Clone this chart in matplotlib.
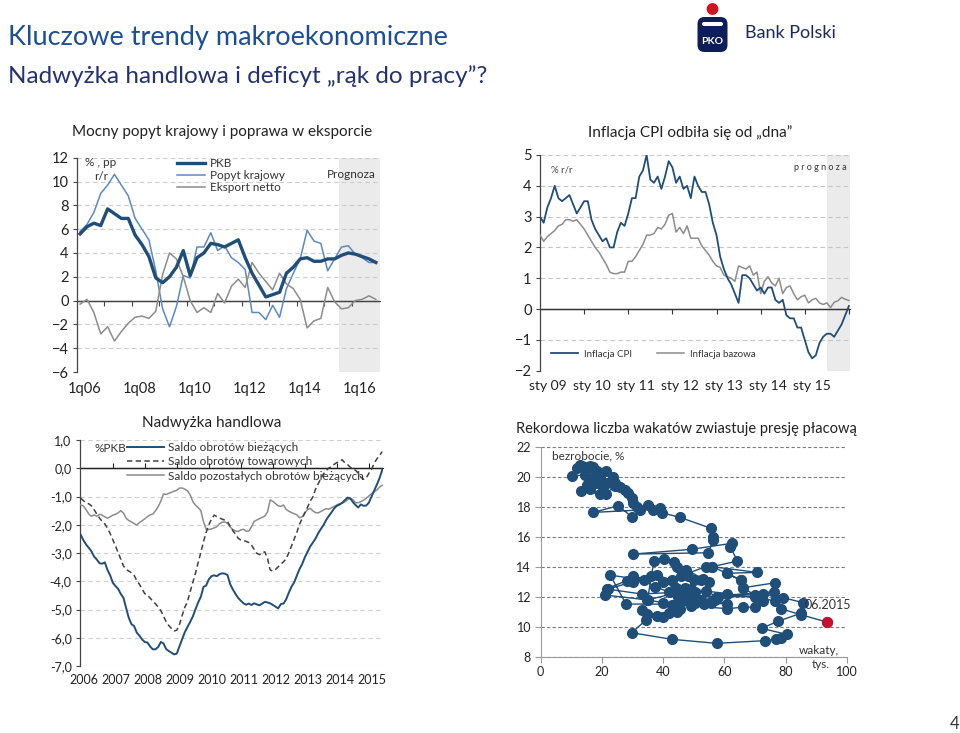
import matplotlib
matplotlib.use('Agg')
import matplotlib.pyplot as plt
import numpy as np
from matplotlib.patches import FancyBboxPatch, Circle
from matplotlib.lines import Line2D

plt.rcParams['font.family'] = ['Lato', 'DejaVu Sans']

# ---------------- DATA ----------------
# Chart 1: quarterly 1q06..4q16
q_labels = ['1q06', '1q08', '1q10', '1q12', '1q14', '1q16']
pkb = [5.6, 6.2, 6.5, 6.3, 7.7, 7.3, 6.9, 6.9, 5.5, 4.7, 3.7, 1.9, 1.5, 2.0, 2.8, 4.2,
       2.1, 3.6, 4.0, 4.8, 4.7, 4.5, 4.8, 5.1, 3.6, 2.3, 1.3, 0.3, 0.5, 0.7, 2.3, 2.8,
       3.5, 3.6, 3.3, 3.3, 3.5, 3.5, 3.8, 4.0, 3.9, 3.7, 3.5, 3.2]
popyt = [5.8, 6.4, 7.4, 9.0, 9.7, 10.6, 9.7, 8.8, 6.9, 6.0, 5.1, 2.5, -0.7, -2.2, -0.5, 2.1,
         1.9, 4.5, 4.5, 5.7, 4.2, 4.6, 3.6, 3.2, 2.6, -1.0, -1.0, -1.6, -0.4, -1.4, 1.0, 2.3,
         3.5, 5.9, 5.0, 4.8, 2.5, 3.5, 4.5, 4.6, 3.9, 3.6, 3.2, 3.2]
eksport = [-0.3, 0.1, -1.0, -2.8, -2.2, -3.4, -2.6, -1.9, -1.4, -1.3, -1.5, -0.9, 2.2, 4.0, 3.5, 2.0,
           0.0, -1.0, -0.6, -1.0, 0.6, -0.2, 1.2, 1.8, 1.1, 3.2, 2.3, 1.6, 0.9, 2.3, 1.4, 1.0,
           0.1, -2.3, -1.7, -1.5, 1.1, -0.1, -0.7, -0.6, 0.0, 0.1, 0.4, 0.1]

# Chart 2: monthly 12.2008..12.2015
cpi_labels = ['sty 09', 'sty 10', 'sty 11', 'sty 12', 'sty 13', 'sty 14', 'sty 15']
cpi = [3.0,
       2.8, 3.3, 3.6, 4.0, 3.6, 3.5, 3.6, 3.7, 3.4, 3.1, 3.3, 3.5,
       3.5, 2.9, 2.6, 2.4, 2.2, 2.3, 2.0, 2.0, 2.5, 2.8, 2.7, 3.1,
       3.6, 3.6, 4.3, 4.5, 5.0, 4.2, 4.1, 4.3, 3.9, 4.3, 4.8, 4.6,
       4.1, 4.3, 3.9, 4.0, 3.6, 4.3, 4.0, 3.8, 3.8, 3.4, 2.8, 2.4,
       1.7, 1.3, 1.0, 0.8, 0.5, 0.2, 1.1, 1.1, 1.0, 0.8, 0.6, 0.7,
       0.5, 0.7, 0.7, 0.3, 0.2, 0.3, -0.2, -0.3, -0.3, -0.6, -0.6, -1.0,
       -1.4, -1.6, -1.5, -1.1, -0.9, -0.8, -0.8, -0.9, -0.7, -0.5, -0.2, 0.1]
bazowa = [2.4,
          2.2, 2.35, 2.45, 2.55, 2.7, 2.75, 2.9, 2.9, 2.85, 2.9, 2.75, 2.6,
          2.4, 2.2, 2.0, 1.85, 1.65, 1.45, 1.2, 1.15, 1.15, 1.2, 1.2, 1.55,
          1.55, 1.7, 1.9, 2.1, 2.4, 2.4, 2.45, 2.65, 2.6, 2.75, 3.05, 3.1,
          2.5, 2.65, 2.45, 2.7, 2.3, 2.3, 2.3, 2.05, 1.9, 1.75, 1.55, 1.4,
          1.35, 1.1, 1.05, 1.0, 0.9, 1.4, 1.35, 1.3, 1.4, 1.1, 1.2, 0.5,
          0.9, 1.05, 0.85, 0.75, 1.0, 0.5, 0.7, 0.75, 0.5, 0.3, 0.4, 0.45,
          0.2, 0.3, 0.35, 0.2, 0.15, 0.2, 0.05, 0.22, 0.27, 0.38, 0.32, 0.28]

# Chart 3: monthly 01.2006..06.2015, % PKB
years = ['2006', '2007', '2008', '2009', '2010', '2011', '2012', '2013', '2014', '2015']
ca = [-2.36, -2.55, -2.70, -2.82, -2.94, -3.13, -3.23, -3.36, -3.38, -3.33, -3.60, -3.79,
      -4.05, -4.17, -4.27, -4.45, -4.59, -4.95, -5.30, -5.52, -5.59, -5.82, -5.93, -6.06,
      -6.15, -6.17, -6.31, -6.41, -6.41, -6.33, -6.15, -6.20, -6.40, -6.47, -6.53, -6.59,
      -6.56, -6.30, -6.05, -5.80, -5.62, -5.44, -5.25, -4.99, -4.75, -4.55, -4.20, -4.15,
      -3.93, -3.82, -3.79, -3.82, -3.75, -3.72, -3.73, -3.78, -4.10, -4.29, -4.45, -4.59,
      -4.69, -4.78, -4.83, -4.79, -4.84, -4.78, -4.82, -4.85, -4.79, -4.73, -4.75, -4.78,
      -4.84, -4.90, -4.96, -4.81, -4.79, -4.64, -4.40, -4.19, -4.04, -3.80, -3.57, -3.39,
      -3.15, -2.96, -2.77, -2.63, -2.49, -2.30, -2.15, -2.01, -1.83, -1.69, -1.56, -1.42,
      -1.33, -1.29, -1.22, -1.13, -1.04, -1.06, -1.20, -1.30, -1.39, -1.28, -1.33, -1.32,
      -1.22, -1.00, -0.79, -0.58, -0.35, -0.06]
trade = [-1.06, -1.15, -1.22, -1.26, -1.33, -1.47, -1.62, -1.76, -1.88, -1.97, -2.12, -2.31,
         -2.53, -2.75, -2.99, -3.22, -3.46, -3.58, -3.64, -3.70, -3.79, -3.98, -4.11, -4.28,
         -4.44, -4.49, -4.60, -4.70, -4.80, -4.91, -5.04, -5.24, -5.43, -5.57, -5.67, -5.76,
         -5.73, -5.53, -5.21, -4.92, -4.72, -4.37, -4.04, -3.71, -3.34, -2.98, -2.60, -2.27,
         -2.00, -1.80, -1.66, -1.71, -1.76, -1.80, -1.84, -1.89, -2.05, -2.21, -2.33, -2.48,
         -2.54, -2.56, -2.59, -2.63, -2.72, -2.87, -3.01, -3.06, -2.99, -2.96, -3.19, -3.60,
         -3.64, -3.58, -3.49, -3.40, -3.31, -3.20, -2.99, -2.75, -2.51, -2.27, -1.98, -1.78,
         -1.58, -1.38, -1.16, -1.02, -0.74, -0.55, -0.37, -0.20, -0.08, 0.01, 0.05, 0.14,
         0.20, 0.25, 0.30, 0.19, 0.13, 0.04, -0.02, -0.07, -0.17, -0.32, -0.39, -0.35,
         -0.18, -0.04, 0.18, 0.33, 0.45, 0.59]
other = [-1.30, -1.34, -1.47, -1.62, -1.70, -1.65, -1.70, -1.63, -1.66, -1.72, -1.77, -1.72,
         -1.66, -1.63, -1.58, -1.50, -1.59, -1.77, -1.85, -1.90, -1.96, -2.01, -1.92, -1.86,
         -1.79, -1.71, -1.65, -1.62, -1.51, -1.36, -1.17, -0.91, -0.93, -0.89, -0.85, -0.81,
         -0.78, -0.70, -0.70, -0.74, -0.80, -0.94, -1.18, -1.31, -1.39, -1.50, -1.89, -2.16,
         -2.17, -2.15, -2.11, -2.07, -1.97, -1.91, -1.90, -1.95, -2.08, -2.17, -2.22, -2.24,
         -2.18, -2.16, -2.23, -2.22, -2.07, -1.88, -1.83, -1.78, -1.74, -1.69, -1.55, -1.12,
         -1.17, -1.25, -1.33, -1.35, -1.30, -1.46, -1.52, -1.57, -1.61, -1.65, -1.75, -1.72,
         -1.58, -1.46, -1.42, -1.51, -1.57, -1.58, -1.53, -1.48, -1.43, -1.45, -1.40, -1.35,
         -1.30, -1.25, -1.24, -1.19, -1.12, -1.07, -1.11, -1.22, -1.22, -1.18, -1.13, -1.06,
         -0.98, -0.90, -0.84, -0.77, -0.67, -0.60]

# Chart 4: vacancies (thous.) vs unemployment (%), monthly path ending 06.2015
wakaty = [12.8, 14.5, 16.1, 17.2, 18.5, 21.3, 19.4, 17.0, 16.7, 15.0, 14.5, 10.1,
          11.8, 13.5, 15.5, 18.0, 19.5, 21.8, 23.7, 24.3, 20.5, 16.0, 19.4, 13.1,
          15.5, 18.0, 21.3, 24.3, 25.9, 27.5, 28.6, 29.7, 30.3, 31.4, 32.5, 17.2,
          25.4, 29.7, 35.2, 36.8, 39.0, 39.5, 45.5, 55.6, 56.4, 56.4, 54.8, 30.3,
          49.3, 62.5, 62.0, 64.3, 56.1, 70.8, 60.8, 65.4, 66.2, 76.7, 76.3, 46.0,
          72.8, 79.3, 85.8, 85.0, 77.5, 72.2, 80.4, 78.4, 76.9, 73.3, 57.5, 42.8,
          29.7, 34.4, 34.6, 33.0, 38.1, 40.1, 42.0, 44.4, 45.5, 43.0, 40.0, 35.0,
          21.1, 21.6, 28.1, 30.3, 33.6, 37.4, 42.0, 45.0, 48.0, 50.5, 53.5, 27.9,
          22.7, 30.5, 37.9, 43.0, 47.0, 50.0, 52.5, 57.0, 60.8, 55.5, 45.0, 33.0,
          22.0, 30.0, 36.0, 40.0, 44.0, 48.0, 50.5, 54.0, 57.5, 61.0, 49.0, 34.9,
          37.0, 40.3, 43.4, 44.5, 46.5, 48.0, 50.0, 52.5, 55.0, 53.0, 47.5, 45.8,
          54.0, 56.1, 60.8, 65.4, 66.2, 70.0, 72.5, 70.0, 66.0, 61.0, 49.0, 44.4,
          58.0, 70.0, 76.7, 78.4, 85.0, 93.5]
bezrobocie = [20.78, 20.67, 20.71, 20.62, 20.40, 20.40, 19.78, 19.90, 19.67, 19.45, 20.11, 20.05,
              20.56, 20.70, 20.60, 20.20, 19.85, 19.56, 20.00, 19.56, 19.30, 19.20, 18.85, 19.07,
              19.50, 19.60, 18.83, 19.40, 19.33, 19.11, 18.89, 18.56, 18.22, 18.00, 17.78, 17.62,
              18.07, 17.33, 18.11, 17.78, 17.89, 17.60, 17.29, 16.56, 16.00, 15.78, 14.93, 14.84,
              15.16, 15.56, 15.30, 14.38, 14.00, 13.62, 13.56, 13.10, 12.60, 12.93, 12.33, 11.90,
              12.16, 11.93, 11.60, 10.89, 10.36, 9.89, 9.49, 9.22, 9.16, 9.07, 8.89, 9.16,
              9.60, 10.44, 10.84, 11.10, 10.70, 10.67, 10.90, 11.00, 11.20, 11.45, 11.60, 11.78,
              12.11, 12.53, 13.07, 13.38, 13.10, 12.67, 12.30, 12.00, 11.80, 11.60, 11.50, 11.51,
              13.44, 13.20, 13.44, 13.10, 12.60, 12.20, 11.80, 11.80, 11.50, 11.60, 12.30, 12.18,
              12.50, 13.00, 13.40, 13.00, 12.60, 12.40, 12.30, 12.40, 12.00, 12.20, 12.50, 11.78,
              14.40, 14.49, 14.33, 14.00, 13.70, 13.40, 13.10, 13.10, 13.00, 13.20, 13.80, 13.40,
              14.00, 14.00, 13.56, 13.10, 12.60, 12.10, 11.70, 11.30, 11.30, 11.20, 11.40, 11.40,
              12.00, 12.00, 11.70, 11.20, 10.80, 10.31]

# ---------------- STYLE ----------------
NAVY = '#1f4e79'
MIDBLUE = '#5b8ac0'
GREY = '#8c8c8c'
TXT = '#222222'

fig = plt.figure(figsize=(9.6, 7.33), dpi=100)
W, H = 960.0, 733.0


def rect(l, t, r, b):
    return [l / W, 1 - b / H, (r - l) / W, (b - t) / H]


def ftext(x, y, s, **kw):
    kw.setdefault('va', 'center')
    kw.setdefault('color', TXT)
    fig.text(x / W, 1 - y / H, s, **kw)


def style_y(ax, size):
    for s in ['top', 'right', 'bottom']:
        ax.spines[s].set_visible(False)
    ax.spines['left'].set_color('#444444')
    ax.spines['left'].set_linewidth(0.9)
    ax.tick_params(axis='y', length=3, width=0.8, color='#444444', labelsize=size,
                   labelcolor=TXT, pad=3)
    ax.set_axisbelow(True)


def zero_axis(ax, frac, ticks, color):
    ax.axhline(0, color=color, lw=1.0, zorder=2)
    sec = ax.secondary_xaxis(frac)
    sec.set_xticks(ticks)
    sec.set_xticklabels([])
    sec.tick_params(length=3.5, width=0.8, color=color)
    for s in sec.spines.values():
        s.set_color(color)
    return sec


# Header
ftext(8, 37, 'Kluczowe trendy makroekonomiczne', fontsize=19.5, color='#1d4f96')
ftext(8, 76, 'Nadwyżka handlowa i deficyt „rąk do pracy”?', fontsize=17.5, color='#253271')

# Logo
lax = fig.add_axes(rect(690, 0, 740, 56))
lax.set_xlim(690, 740)
lax.set_ylim(56, 0)
lax.axis('off')
lax.add_patch(Circle((712.5, 9), 5.2, color='#d4111c'))
lax.add_patch(FancyBboxPatch((697.5, 17), 30, 35, boxstyle='round,pad=0,rounding_size=7',
                             fc='#0e1e5b', ec='none'))
lax.add_patch(FancyBboxPatch((702, 22), 21, 4, boxstyle='round,pad=0,rounding_size=2',
                             fc='white', ec='none'))
lax.text(712.5, 41, 'PKO', color='white', fontsize=7.5, fontweight='bold', ha='center', va='center')
ftext(745, 33, 'Bank Polski', fontsize=13, color='#1b2a5e')

# ---------------- Chart 1 ----------------
ax1 = fig.add_axes(rect(77, 157.7, 380, 372))
x1 = np.arange(len(pkb))
ax1.axvspan(37.6, 43.6, color='#ebebeb', zorder=0, lw=0)
ax1.plot(x1, popyt, color=MIDBLUE, lw=1.1, zorder=3)
ax1.plot(x1, eksport, color=GREY, lw=1.1, zorder=3)
ax1.plot(x1, pkb, color=NAVY, lw=2.4, zorder=4)
ax1.set_xlim(-0.45, 43.6)
ax1.set_ylim(-6, 12)
ax1.set_yticks(range(-6, 13, 2))
ax1.grid(axis='y', ls=(0, (4, 3)), color='#cccccc', lw=0.8)
style_y(ax1, 10.5)
ax1.set_xticks([0.7 + 8 * k for k in range(len(q_labels))])
ax1.set_xticklabels(q_labels)
ax1.tick_params(axis='x', length=0, labelsize=10.5, labelcolor=TXT, pad=7)
zero_axis(ax1, 6 / 18, [4 * k - 0.5 for k in range(1, 11)], '#444444')
h1 = [Line2D([], [], color=NAVY, lw=2.4), Line2D([], [], color=MIDBLUE, lw=1.1),
      Line2D([], [], color=GREY, lw=1.1)]
leg1 = ax1.legend(h1, ['PKB', 'Popyt krajowy', 'Eksport netto'], loc='upper left',
                  bbox_to_anchor=((177 - 77) / 303, (372 - 158) / 214.3), frameon=False,
                  fontsize=8.5, handlelength=2.4, handletextpad=0.4, labelspacing=0.1,
                  borderaxespad=0, borderpad=0)
for t in leg1.get_texts():
    t.set_color('#333333')
ftext(222, 132, 'Mocny popyt krajowy i poprawa w eksporcie', fontsize=11, ha='center')
ftext(101, 163, '% , pp', fontsize=8.5, ha='center', color='#333333')
ftext(101, 177, 'r/r', fontsize=8.5, ha='center', color='#333333')
ftext(351, 174, 'Prognoza', fontsize=8.5, ha='center', color='#333333')

# ---------------- Chart 2 ----------------
ax2 = fig.add_axes(rect(540, 155, 850, 370.7))
x2 = np.arange(len(cpi))
ax2.axvspan(78, 84.3, color='#ebebeb', zorder=0, lw=0)
ax2.plot(x2, bazowa, color=GREY, lw=1.1, zorder=3)
ax2.plot(x2, cpi, color=NAVY, lw=1.3, zorder=4)
ax2.set_xlim(0, 84.3)
ax2.set_ylim(-2, 5)
ax2.set_yticks(range(-2, 6))
ax2.grid(axis='y', ls=(0, (4, 3)), color='#c4c4c4', lw=0.8)
style_y(ax2, 10.5)
ax2.set_xticks([12 * k + 2 for k in range(len(cpi_labels))])
ax2.set_xticklabels(cpi_labels)
ax2.tick_params(axis='x', length=0, labelsize=10, labelcolor=TXT, pad=7)
zero_axis(ax2, 2 / 7, [12 * k for k in range(1, 8)], '#333333')
h2 = [Line2D([], [], color=NAVY, lw=1.3), Line2D([], [], color=GREY, lw=1.1)]
leg2 = ax2.legend(h2, ['Inflacja CPI', 'Inflacja bazowa'], loc='center left',
                  bbox_to_anchor=(0.035, 0.077), ncol=2, frameon=False, fontsize=7,
                  handlelength=2.8, handletextpad=0.6, columnspacing=2.6,
                  borderaxespad=0, borderpad=0)
for t in leg2.get_texts():
    t.set_color('#333333')
ftext(690, 133, 'Inflacja CPI odbiła się od „dna”', fontsize=11, ha='center')
ftext(562, 170, '% r/r', fontsize=7, ha='center', color='#444444')
ftext(820, 168, 'p r o g n o z a', fontsize=6.5, ha='center', color='#333333')

# ---------------- Chart 3 ----------------
ax3 = fig.add_axes(rect(80, 440, 383, 666))
x3 = np.arange(len(ca))
ax3.plot(x3, other, color=GREY, lw=1.1, zorder=3)
ax3.plot(x3, trade, color='#404040', lw=1.1, ls=(0, (3.5, 2.2)), zorder=3)
ax3.plot(x3, ca, color=NAVY, lw=1.4, zorder=4)
ax3.set_xlim(-0.3, 113.3)
ax3.set_ylim(-7, 1)
ax3.set_yticks(range(-7, 2))
ax3.set_yticklabels([('%.1f' % v).replace('.', ',') for v in range(-7, 2)])
ax3.grid(axis='y', ls=(0, (4, 3)), color='#d0d0d0', lw=0.8)
style_y(ax3, 9)
ax3.set_xticks([12 * k + 1 for k in range(len(years))])
ax3.set_xticklabels(years)
ax3.tick_params(axis='x', length=0, labelsize=9, labelcolor=TXT, pad=6)
zero_axis(ax3, 7 / 8, [12 * k for k in range(1, 10)], '#222222')
h3 = [Line2D([], [], color=NAVY, lw=1.4), Line2D([], [], color='#404040', lw=1.1, ls=(0, (3.5, 2.2))),
      Line2D([], [], color=GREY, lw=1.1)]
leg3 = ax3.legend(h3, ['Saldo obrotów bieżących', 'Saldo obrotów towarowych',
                       'Saldo pozostałych obrotów bieżących'], loc='upper left',
                  bbox_to_anchor=((127 - 80) / 303, (666 - 442) / 226), frameon=False,
                  fontsize=8.5, handlelength=3.1, handletextpad=0.4, labelspacing=0.28,
                  borderaxespad=0, borderpad=0)
for t in leg3.get_texts():
    t.set_color('#333333')
ftext(212, 423, 'Nadwyżka handlowa', fontsize=11, ha='center')
ftext(110, 449, '%PKB', fontsize=8.5, ha='center', color='#333333')

# ---------------- Chart 4 ----------------
ax4 = fig.add_axes(rect(540.7, 446.7, 846.7, 656.7))
ax4.plot(wakaty, bezrobocie, '-o', color=NAVY, lw=1.0, ms=7, mec=NAVY, zorder=3)
ax4.plot(wakaty[-1:], bezrobocie[-1:], 'o', color='#c8102e', ms=7, zorder=4)
ax4.set_xlim(0, 100)
ax4.set_ylim(8, 22)
ax4.set_yticks(range(8, 23, 2))
ax4.set_xticks(range(0, 101, 20))
ax4.grid(axis='y', ls=(0, (3, 2)), color='#7a7a7a', lw=0.8)
ax4.set_axisbelow(True)
for s in ['top', 'right']:
    ax4.spines[s].set_visible(False)
for s in ['left', 'bottom']:
    ax4.spines[s].set_color('#9a9a9a')
ax4.tick_params(length=4, color='#9a9a9a', labelsize=9, labelcolor=TXT, pad=3)
ftext(686, 429, 'Rekordowa liczba wakatów zwiastuje presję płacową', fontsize=10.5, ha='center')
ftext(588, 456, 'bezrobocie, %', fontsize=8.5, ha='center', color='#333333')
ftext(828, 605, '06.2015', fontsize=9, ha='center', color='#333333')
ftext(819, 650, 'wakaty,', fontsize=8.5, ha='center', color='#333333')
ftext(821, 664, 'tys.', fontsize=8.5, ha='center', color='#333333')

# Page number
ftext(955, 724, '4', fontsize=12, ha='center', color='#333333')

fig.savefig('out.png', dpi=100)
